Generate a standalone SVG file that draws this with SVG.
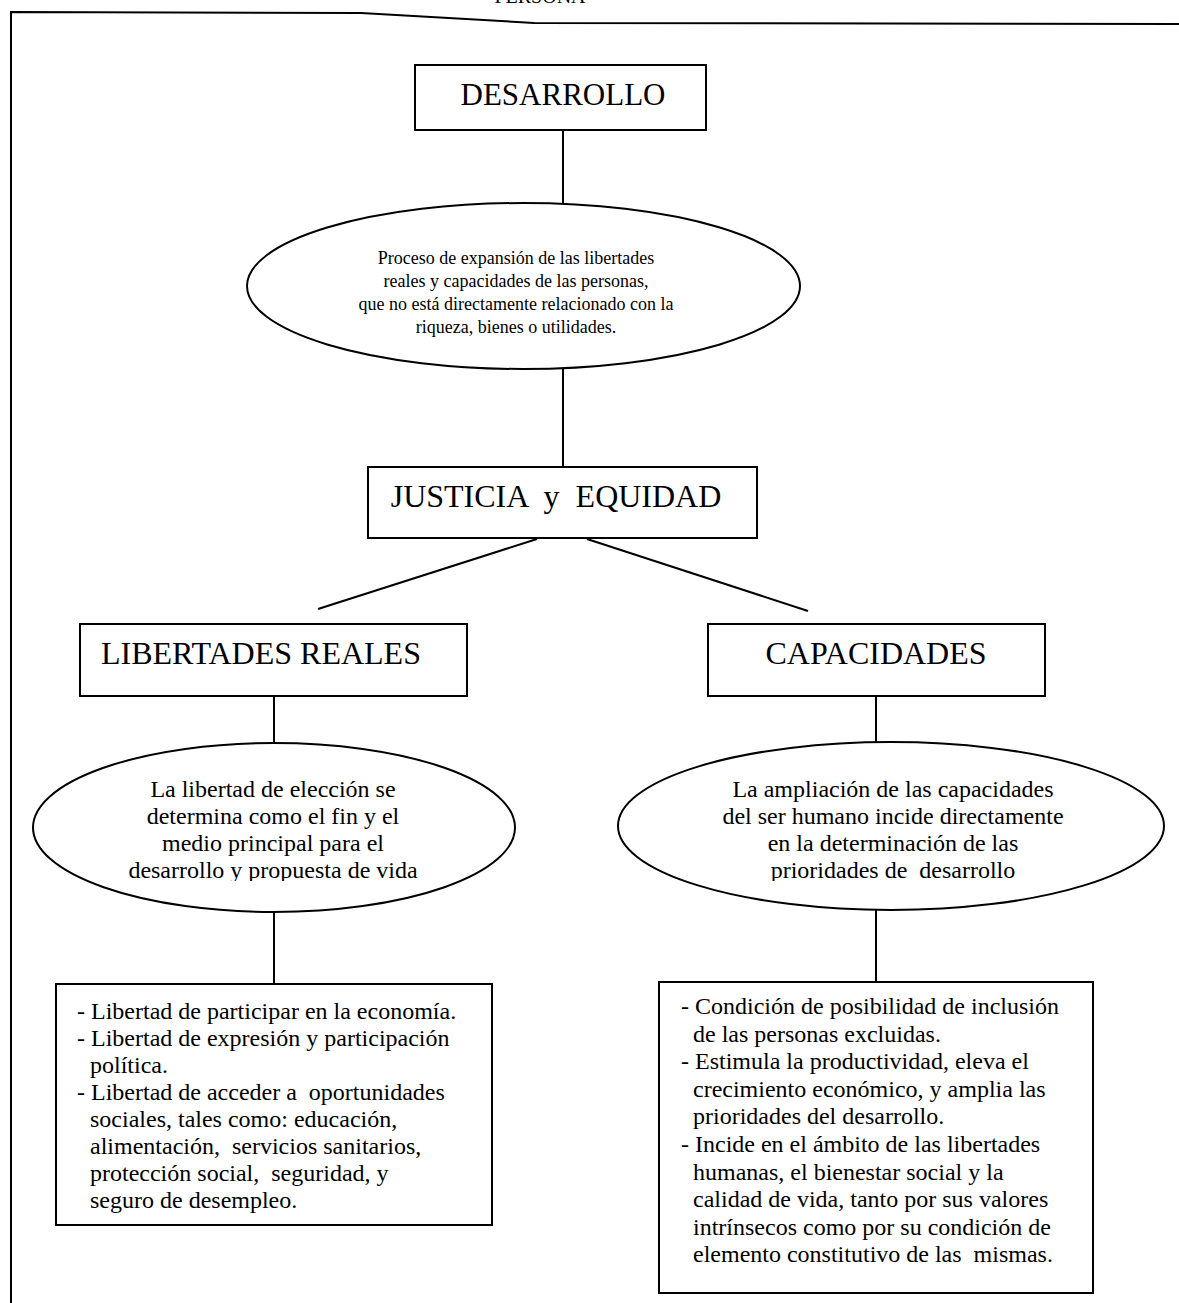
<svg xmlns="http://www.w3.org/2000/svg" width="1179" height="1303" viewBox="0 0 1179 1303">
<style>
.ln{stroke:#000;stroke-width:2;fill:none}
.bx{stroke:#000;stroke-width:2;fill:#fff}
.t{font-family:"Liberation Serif","Times New Roman",serif;fill:#000}
.h{font-size:31px}
.e1{font-size:18px;text-anchor:middle}
.e2{font-size:24px;text-anchor:middle}
.b{font-size:24px;white-space:pre}
</style>
<defs>
<clipPath id="c2"><rect x="0" y="700" width="1179" height="181"/></clipPath>
</defs>
<rect width="1179" height="1303" fill="#fff"/>
<g id="frame">
<path class="ln" d="M11,1303 V12 L361,13 L534,23 L1179,24"/>
<text class="t" x="540" y="3" font-size="20" text-anchor="middle">PERSONA</text>
</g>
<g id="connectors">
<line class="ln" x1="563" y1="130" x2="563" y2="203"/>
<line class="ln" x1="563" y1="369" x2="563" y2="467"/>
<line class="ln" x1="537" y1="539" x2="318" y2="609"/>
<line class="ln" x1="587" y1="539" x2="808" y2="611"/>
<line class="ln" x1="274" y1="696" x2="274" y2="743"/>
<line class="ln" x1="274" y1="912" x2="274" y2="984"/>
<line class="ln" x1="876" y1="696" x2="876" y2="742"/>
<line class="ln" x1="876" y1="910" x2="876" y2="982"/>
</g>
<g id="desarrollo">
<rect class="bx" x="415" y="65" width="291" height="65"/>
<text class="t h" x="563" y="105" text-anchor="middle">DESARROLLO</text>
</g>
<g id="proceso">
<ellipse class="bx" cx="523.5" cy="286" rx="276.5" ry="83"/>
<text class="t e1" x="516" y="264">Proceso de expansión de las libertades</text>
<text class="t e1" x="516" y="287">reales y capacidades de las personas,</text>
<text class="t e1" x="516" y="310">que no está directamente relacionado con la</text>
<text class="t e1" x="516" y="333">riqueza, bienes o utilidades.</text>
</g>
<g id="justicia">
<rect class="bx" x="368" y="467" width="389" height="71"/>
<text class="t" x="556" y="507" font-size="32" text-anchor="middle" style="white-space:pre">JUSTICIA  y  EQUIDAD</text>
</g>
<g id="libertades">
<rect class="bx" x="80" y="624" width="387" height="72"/>
<text class="t" x="101" y="664" font-size="32">LIBERTADES REALES</text>
</g>
<g id="capacidades">
<rect class="bx" x="708" y="624" width="337" height="72"/>
<text class="t" x="876" y="664" font-size="32" text-anchor="middle">CAPACIDADES</text>
</g>
<g id="eleccion">
<ellipse class="bx" cx="274" cy="827.5" rx="241" ry="84.5"/>
<text class="t e2" x="273" y="797">La libertad de elección se</text>
<text class="t e2" x="273" y="824">determina como el fin y el</text>
<text class="t e2" x="273" y="851">medio principal para el</text>
<text class="t e2" x="273" y="878" clip-path="url(#c2)">desarrollo y propuesta de vida</text>
</g>
<g id="ampliacion">
<ellipse class="bx" cx="891" cy="826" rx="273" ry="84"/>
<text class="t e2" x="893" y="797">La ampliación de las capacidades</text>
<text class="t e2" x="893" y="824">del ser humano incide directamente</text>
<text class="t e2" x="893" y="851">en la determinación de las</text>
<text class="t e2" x="893" y="878" clip-path="url(#c2)" style="white-space:pre">prioridades de  desarrollo</text>
</g>
<g id="lista-libertades">
<rect class="bx" x="56" y="984" width="436" height="241"/>
<text class="t b" x="77" y="1019">- Libertad de participar en la economía.</text>
<text class="t b" x="77" y="1046">- Libertad de expresión y participación</text>
<text class="t b" x="90" y="1073">política.</text>
<text class="t b" x="77" y="1100">- Libertad de acceder a  oportunidades</text>
<text class="t b" x="90" y="1127">sociales, tales como: educación,</text>
<text class="t b" x="90" y="1154">alimentación,  servicios sanitarios,</text>
<text class="t b" x="90" y="1181">protección social,  seguridad, y</text>
<text class="t b" x="90" y="1208">seguro de desempleo.</text>
</g>
<g id="lista-capacidades">
<rect class="bx" x="659" y="982" width="434" height="311"/>
<text class="t b" x="681" y="1014">- Condición de posibilidad de inclusión</text>
<text class="t b" x="693" y="1042">de las personas excluidas.</text>
<text class="t b" x="681" y="1069">- Estimula la productividad, eleva el</text>
<text class="t b" x="693" y="1097">crecimiento económico, y amplia las</text>
<text class="t b" x="693" y="1124">prioridades del desarrollo.</text>
<text class="t b" x="681" y="1152">- Incide en el ámbito de las libertades</text>
<text class="t b" x="693" y="1180">humanas, el bienestar social y la</text>
<text class="t b" x="693" y="1207">calidad de vida, tanto por sus valores</text>
<text class="t b" x="693" y="1235">intrínsecos como por su condición de</text>
<text class="t b" x="693" y="1262">elemento constitutivo de las  mismas.</text>
</g>
</svg>
